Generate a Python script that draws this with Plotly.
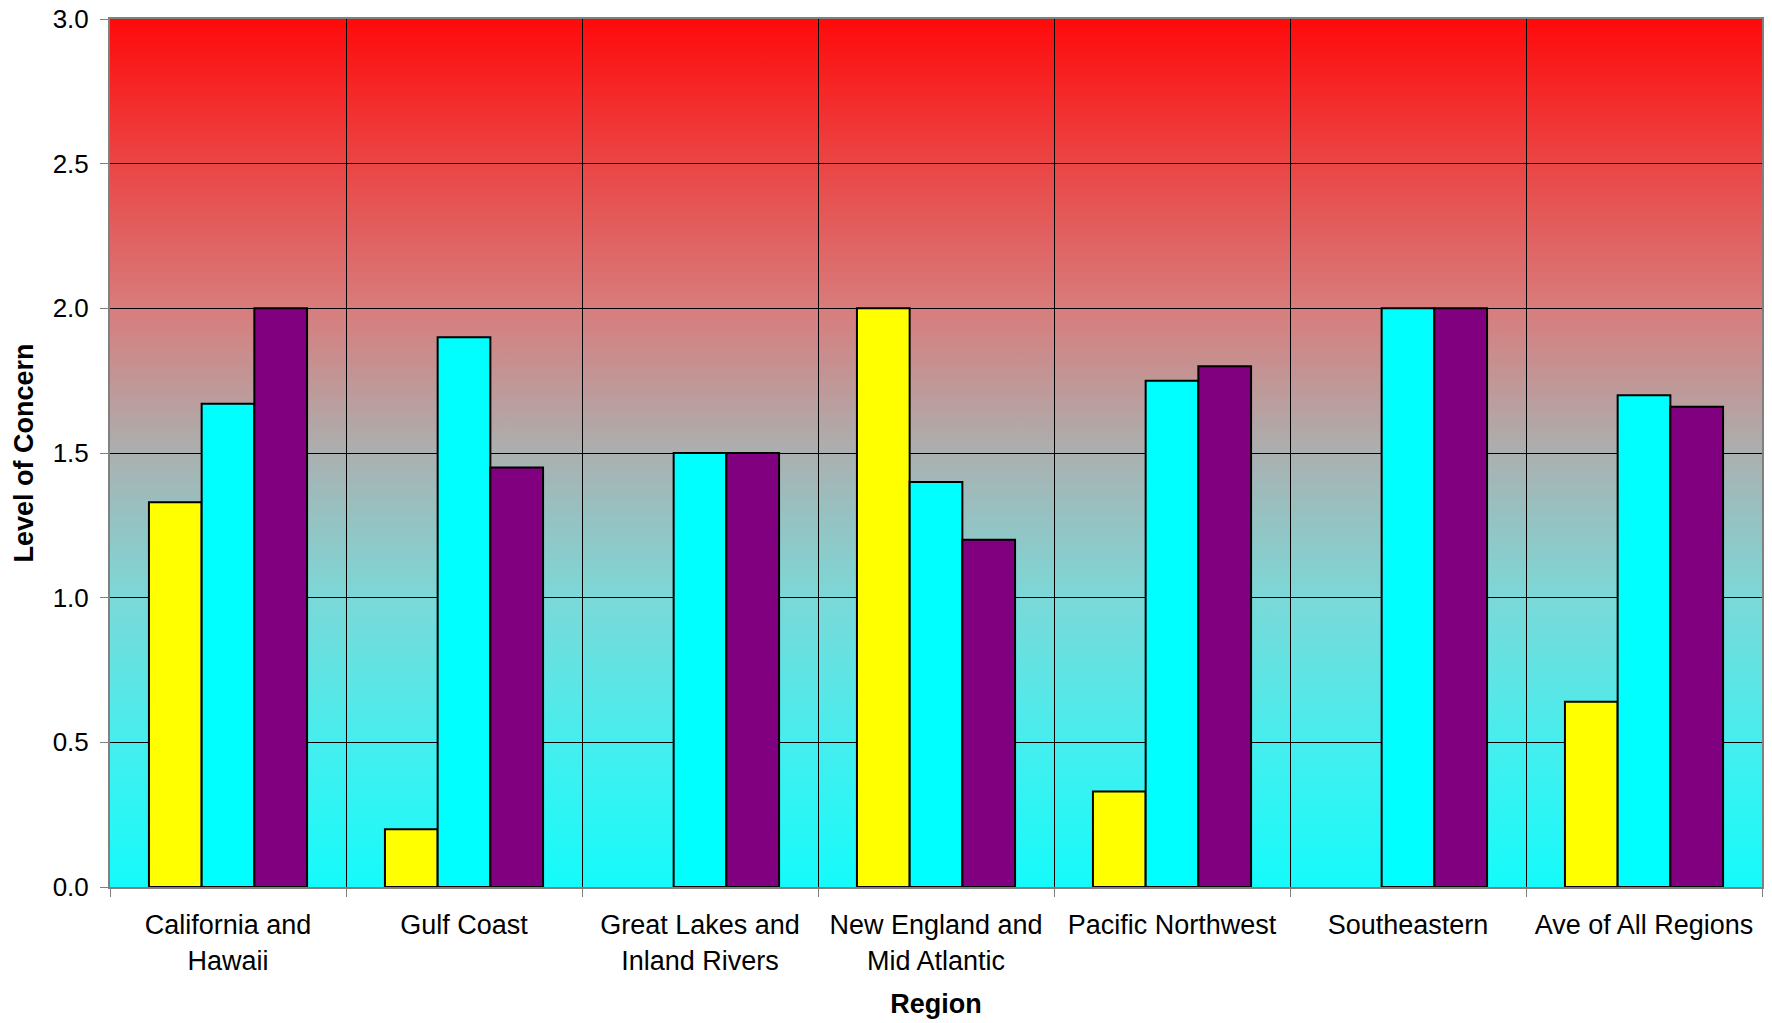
import base64
import plotly.graph_objects as go

regions = [
    "California and<br>Hawaii",
    "Gulf Coast",
    "Great Lakes and<br>Inland Rivers",
    "New England and<br>Mid Atlantic",
    "Pacific Northwest",
    "Southeastern",
    "Ave of All Regions",
]
series_a = [1.33, 0.20, None, 2.00, 0.33, None, 0.64]
series_b = [1.67, 1.90, 1.50, 1.40, 1.75, 2.00, 1.70]
series_c = [2.00, 1.45, 1.50, 1.20, 1.80, 2.00, 1.66]
series_names = ["Series 1", "Series 2", "Series 3"]
series_colors = ["#FFFF00", "#00FFFF", "#800080"]
y_ticks = [0.0, 0.5, 1.0, 1.5, 2.0, 2.5, 3.0]

FONT = "Liberation Sans, Arial, sans-serif"

stops = [
    (0.0, "#FF0A0A"),
    (0.1667, "#EB4545"),
    (0.3333, "#D87C7C"),
    (0.5, "#ABB0B0"),
    (0.6667, "#7CD8D8"),
    (0.8333, "#46EEEE"),
    (1.0, "#14FBFB"),
]
stop_xml = "".join(
    f'<stop offset="{o}" stop-color="{c}"/>' for o, c in stops
)
svg = (
    '<svg xmlns="http://www.w3.org/2000/svg" width="100" height="100" '
    'viewBox="0 0 100 100" preserveAspectRatio="none">'
    '<defs><linearGradient id="g" x1="0" y1="0" x2="0" y2="1">'
    + stop_xml
    + '</linearGradient></defs>'
    '<rect x="0" y="0" width="100" height="100" fill="url(#g)"/></svg>'
)
svg_uri = "data:image/svg+xml;base64," + base64.b64encode(svg.encode()).decode()

fig = go.Figure()
for name, vals, col in zip(series_names, [series_a, series_b, series_c], series_colors):
    fig.add_trace(
        go.Bar(
            x=regions,
            y=vals,
            name=name,
            marker=dict(color=col, line=dict(color="black", width=2)),
            showlegend=False,
        )
    )

fig.update_layout(
    width=1772,
    height=1023,
    margin=dict(l=110, r=10, t=19, b=136),
    paper_bgcolor="white",
    plot_bgcolor="rgba(0,0,0,0)",
    barmode="group",
    bargap=0.33,
    bargroupgap=0,
    font=dict(family=FONT, size=26, color="black"),
    images=[
        dict(
            source=svg_uri,
            xref="paper",
            yref="paper",
            x=0,
            y=1,
            sizex=1,
            sizey=1,
            xanchor="left",
            yanchor="top",
            sizing="stretch",
            layer="below",
        )
    ],
)

fig.update_xaxes(
    type="category",
    automargin=False,
    tickson="boundaries",
    showgrid=True,
    gridcolor="black",
    gridwidth=1,
    ticks="outside",
    ticklen=8,
    tickcolor="#808080",
    showline=True,
    linecolor="#808080",
    linewidth=2,
    mirror=True,
    ticklabelstandoff=13,
    tickfont=dict(family=FONT, size=27, color="black"),
    title=dict(text="<b>Region</b>", font=dict(family=FONT, size=27), standoff=20),
)
fig.update_yaxes(
    range=[0, 3],
    automargin=False,
    tickvals=y_ticks,
    ticktext=[f"{v:.1f}" for v in y_ticks],
    showgrid=True,
    gridcolor="black",
    gridwidth=1,
    zeroline=False,
    ticks="outside",
    ticklen=8,
    tickcolor="#808080",
    showline=True,
    linecolor="#808080",
    linewidth=2,
    mirror=True,
    ticklabelstandoff=6,
    tickfont=dict(family=FONT, size=26, color="black"),
    title=dict(text="<b>Level of Concern</b>", font=dict(family=FONT, size=27), standoff=11),
)

fig.write_html(
    "out.html",
    config={"displayModeBar": False},
    post_script="document.body.style.margin='0';document.body.style.overflow='hidden';",
)
